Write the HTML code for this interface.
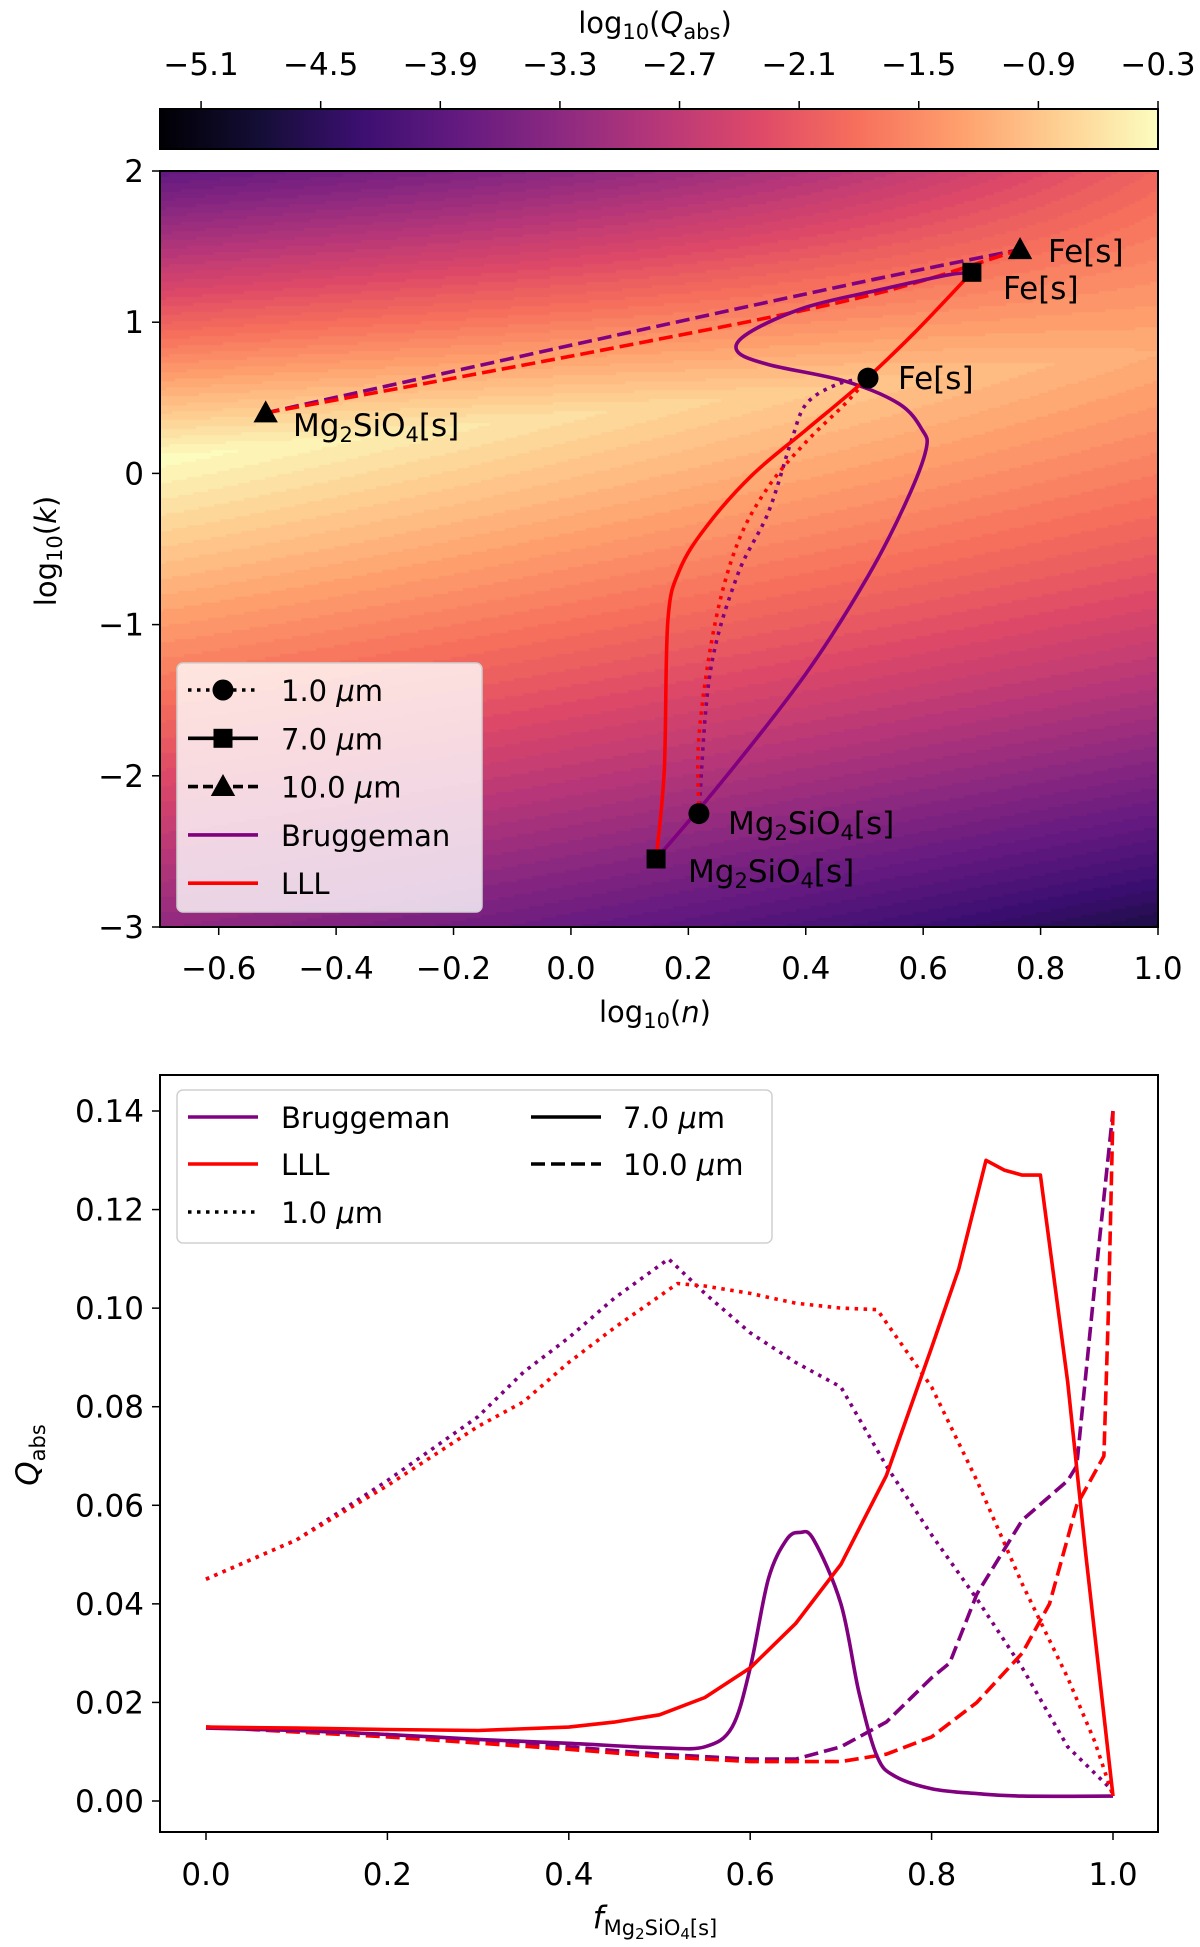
<!DOCTYPE html>
<html><head><meta charset="utf-8">
<style>
html,body{margin:0;padding:0;background:#fff;}
#wrap{position:relative;width:1200px;height:1947px;overflow:hidden;}
#heat{position:absolute;left:160px;top:171px;}
svg{position:absolute;left:0;top:0;}
text{font-family:"DejaVu Sans","Liberation Sans",sans-serif;fill:#000;}
</style></head>
<body>
<div id="wrap">
<canvas id="heat" width="998" height="756"></canvas>
<svg id="svg" width="1200" height="1947" xmlns="http://www.w3.org/2000/svg">
<defs>
<linearGradient id="magma" x1="0" x2="1" y1="0" y2="0">
<stop offset="0" stop-color="#000004"/><stop offset="0.1" stop-color="#140e36"/><stop offset="0.2" stop-color="#3b0f70"/><stop offset="0.3" stop-color="#641a80"/><stop offset="0.4" stop-color="#8c2981"/><stop offset="0.5" stop-color="#b73779"/><stop offset="0.6" stop-color="#de4968"/><stop offset="0.7" stop-color="#f7705c"/><stop offset="0.8" stop-color="#fe9f6d"/><stop offset="0.9" stop-color="#fecf92"/><stop offset="1" stop-color="#fcfdbf"/>
</linearGradient>
</defs>
</svg>
</div>
<script>
// ---------- data: colorbar ----------
const cbTicks = [-5.1,-4.5,-3.9,-3.3,-2.7,-2.1,-1.5,-0.9,-0.3];
// ---------- data: top panel ----------
const topXTicks = [-0.6,-0.4,-0.2,0.0,0.2,0.4,0.6,0.8,1.0];
const topYTicks = [2,1,0,-1,-2,-3];
const brug7n = [0.145,0.257,0.401,0.506,0.572,0.605,0.598,0.559,0.467,0.336,0.283,0.303,0.401,0.533,0.638,0.683];
const brug7k = [-2.55,-2.04,-1.32,-0.68,-0.18,0.16,0.29,0.46,0.61,0.72,0.81,0.93,1.10,1.22,1.31,1.33];
const lll7n = [0.145,0.159,0.165,0.185,0.231,0.309,0.401,0.493,0.585,0.683];
const lll7k = [-2.55,-1.96,-0.98,-0.64,-0.35,-0.01,0.29,0.59,0.93,1.33];
const brug1n = [0.218,0.237,0.283,0.336,0.375,0.401,0.454,0.506];
const brug1k = [-2.25,-1.32,-0.68,-0.26,0.21,0.46,0.59,0.63];
const lll1n = [0.218,0.218,0.244,0.283,0.336,0.401,0.467,0.506];
const lll1k = [-2.25,-1.74,-1.02,-0.47,-0.09,0.21,0.46,0.63];
const brug10n = [-0.52,0.073,0.5,0.765];
const brug10k = [0.40,0.91,1.27,1.48];
const lll10n = [-0.52,0.073,0.5,0.765];
const lll10k = [0.40,0.83,1.17,1.48];
// ---------- data: bottom panel ----------
const botXTicks = [0.0,0.2,0.4,0.6,0.8,1.0];
const botYTicks = [0.00,0.02,0.04,0.06,0.08,0.10,0.12,0.14];
const b1f = [0,0.1,0.2,0.3,0.35,0.4,0.45,0.51,0.55,0.6,0.65,0.7,0.75,0.8,0.85,0.9,0.95,1.0];
const b1q = [0.045,0.053,0.065,0.078,0.087,0.094,0.102,0.110,0.103,0.095,0.089,0.084,0.068,0.054,0.041,0.027,0.011,0.002];
const l1f = [0,0.1,0.2,0.3,0.35,0.4,0.45,0.52,0.55,0.6,0.65,0.7,0.74,0.8,0.85,0.9,0.95,0.98,1.0];
const l1q = [0.045,0.053,0.064,0.076,0.081,0.089,0.096,0.105,0.1045,0.103,0.101,0.100,0.0997,0.084,0.065,0.044,0.025,0.012,0.001];
const b7f = [0,0.1,0.2,0.3,0.4,0.5,0.55,0.58,0.6,0.62,0.64,0.655,0.67,0.7,0.72,0.74,0.76,0.8,0.85,0.9,1.0];
const b7q = [0.0148,0.0143,0.0135,0.0125,0.0117,0.0108,0.011,0.015,0.027,0.045,0.053,0.0545,0.053,0.040,0.022,0.009,0.005,0.0025,0.0015,0.001,0.001];
const l7f = [0,0.1,0.2,0.3,0.4,0.45,0.5,0.55,0.6,0.65,0.7,0.75,0.8,0.83,0.86,0.88,0.9,0.92,0.95,0.97,1.0];
const l7q = [0.015,0.0148,0.0145,0.0143,0.015,0.016,0.0175,0.021,0.027,0.036,0.048,0.066,0.092,0.108,0.130,0.128,0.127,0.127,0.085,0.050,0.001];
const b10f = [0,0.2,0.4,0.5,0.6,0.65,0.7,0.75,0.8,0.82,0.85,0.9,0.95,0.96,0.98,1.0];
const b10q = [0.015,0.0135,0.011,0.0095,0.0085,0.0085,0.011,0.016,0.025,0.028,0.042,0.057,0.065,0.068,0.105,0.140];
const l10f = [0,0.2,0.4,0.5,0.6,0.7,0.75,0.8,0.85,0.9,0.93,0.96,0.99,0.995,1.0];
const l10q = [0.015,0.013,0.0105,0.009,0.008,0.008,0.0095,0.013,0.020,0.030,0.040,0.060,0.070,0.100,0.140];

const NS="http://www.w3.org/2000/svg";
const svg=document.getElementById('svg');
function mk(tag,attrs,parent){const e=document.createElementNS(NS,tag);for(const k in attrs)e.setAttribute(k,attrs[k]);(parent||svg).appendChild(e);return e;}
function txt(s,attrs,parent){const e=mk('text',attrs,parent);e.innerHTML=s;return e;}

const VMIN=-5.306,VMAX=-0.3;
const tX=n=>160+(n+0.7)/1.7*998, tY=k=>171+(2-k)/5*756;
const bX=f=>206+f*907, bY=q=>1801-q/0.14*690;
const cbX=v=>160+(v-VMIN)/(VMAX-VMIN)*998;

const mstops=[[0,0,4],[20,14,54],[59,15,112],[100,26,128],[140,41,129],[183,55,121],[222,73,104],[247,112,92],[254,159,109],[254,207,146],[252,253,191]];
function magma(t){t=Math.max(0,Math.min(1,t));const p=t*10,i=Math.min(9,Math.floor(p)),f=p-i;const a=mstops[i],b=mstops[i+1];return [a[0]+(b[0]-a[0])*f,a[1]+(b[1]-a[1])*f,a[2]+(b[2]-a[2])*f];}
function field(n,k){const t=(n+0.7)/1.7;const peak=-0.3-0.85*Math.pow(t,1.1);const kc=0.1+0.7*t;const d=k-kc;
 if(d>=0){return peak-(1.85-0.3*t-0.9*t*t*t)*d;} const a=0.95-0.4*t,b=0.1*t;return peak-(a*(-d)+b*d*d);}
(function(){const c=document.getElementById('heat').getContext('2d');const st=3;
 for(let px=0;px<998;px+=st)for(let py=0;py<756;py+=st){const n=-0.7+(px+1)/998*1.7,k=2-(py+1)/756*5;
  let v=field(n,k);v=Math.round((v-VMIN)/0.1)*0.1+VMIN;const col=magma((v-VMIN)/(VMAX-VMIN));
  c.fillStyle=`rgb(${col[0]|0},${col[1]|0},${col[2]|0})`;c.fillRect(px,py,st,st);}})();

mk('rect',{x:160,y:109,width:998,height:40,fill:'url(#magma)',stroke:'#000','stroke-width':2,});
cbTicks.forEach(v=>{const x=cbX(v);mk('line',{x1:x,x2:x,y1:109,y2:101,stroke:'#000','stroke-width':1.5});
 const t=txt(String(v.toFixed(1)).replace('-','\u2212'),{x:x,y:75,'text-anchor':'middle','font-size':31});
 });
txt('log<tspan font-size="21" dy="6">10</tspan><tspan dy="-6">(</tspan><tspan font-style="italic">Q</tspan><tspan font-size="21" dy="6">abs</tspan><tspan dy="-6">)</tspan>',{x:655,y:33,'text-anchor':'middle','font-size':29,});

mk('rect',{x:160,y:171,width:998,height:756,fill:'none',stroke:'#000','stroke-width':2,});
topXTicks.forEach(v=>{const x=tX(v);mk('line',{x1:x,x2:x,y1:927,y2:935,stroke:'#000','stroke-width':1.5});
 const t=txt(v.toFixed(1).replace('-','\u2212'),{x:x,y:979,'text-anchor':'middle','font-size':31});});
topYTicks.forEach(v=>{const y=tY(v);mk('line',{x1:160,x2:152,y1:y,y2:y,stroke:'#000','stroke-width':1.5});
 const t=txt(String(v).replace('-','\u2212'),{x:144,y:y+11,'text-anchor':'end','font-size':31});});
txt('log<tspan font-size="21" dy="6">10</tspan><tspan dy="-6">(</tspan><tspan font-style="italic">n</tspan>)',{x:655,y:1022,'text-anchor':'middle','font-size':29,});
txt('log<tspan font-size="21" dy="6">10</tspan><tspan dy="-6">(</tspan><tspan font-style="italic">k</tspan>)',{x:0,y:0,'text-anchor':'middle','font-size':29,transform:'translate(56,551) rotate(-90)',});

function path(xs,ys,fx,fy,color,dash,name,smooth){const P=xs.map((v,i)=>[fx(v),fy(ys[i])]);let d='M'+P[0][0].toFixed(1)+','+P[0][1].toFixed(1);
 for(let i=1;i<P.length;i++){if(smooth){const p0=P[Math.max(0,i-2)],p1=P[i-1],p2=P[i],p3=P[Math.min(P.length-1,i+1)];
  const c1=[p1[0]+(p2[0]-p0[0])/6,p1[1]+(p2[1]-p0[1])/6],c2=[p2[0]-(p3[0]-p1[0])/6,p2[1]-(p3[1]-p1[1])/6];
  d+=` C${c1[0].toFixed(1)},${c1[1].toFixed(1)} ${c2[0].toFixed(1)},${c2[1].toFixed(1)} ${p2[0].toFixed(1)},${p2[1].toFixed(1)}`;}
  else d+=' L'+P[i][0].toFixed(1)+','+P[i][1].toFixed(1);}
 const p=mk('path',{d:d,fill:'none',stroke:color,'stroke-width':3.6,'stroke-linejoin':'round'});if(dash)p.setAttribute('stroke-dasharray',dash);
 return p;}
const PUR='#800080',RED='#ff0000',DOT='3.5 5.5',DASH='14 6';
path(brug10n,brug10k,tX,tY,PUR,DASH,'bruggeman-10um-path',true);
path(lll10n,lll10k,tX,tY,RED,DASH,'lll-10um-path',true);
path(brug1n,brug1k,tX,tY,PUR,DOT,'bruggeman-1um-path',true);
path(lll1n,lll1k,tX,tY,RED,DOT,'lll-1um-path',true);
path(brug7n,brug7k,tX,tY,PUR,null,'bruggeman-7um-path',true);
path(lll7n,lll7k,tX,tY,RED,null,'lll-7um-path',true);
function marker(type,x,y,s,name){let e;
 if(type==='o')e=mk('circle',{cx:x,cy:y,r:s*0.5,fill:'#000'});
 else if(type==='s')e=mk('rect',{x:x-s/2,y:y-s/2,width:s,height:s,fill:'#000'});
 else e=mk('polygon',{points:`${x},${y-s*0.6} ${x-s*0.58},${y+s*0.45} ${x+s*0.58},${y+s*0.45}`,fill:'#000'});
 }
marker('o',tX(brug1n[0]),tY(brug1k[0]),21,'marker-1um-mg2sio4');
marker('o',tX(brug1n[brug1n.length-1]),tY(brug1k[brug1k.length-1]),21,'marker-1um-fe');
marker('s',tX(brug7n[0]),tY(brug7k[0]),19,'marker-7um-mg2sio4');
marker('s',tX(brug7n[brug7n.length-1]),tY(brug7k[brug7k.length-1]),19,'marker-7um-fe');
marker('^',tX(brug10n[0]),tY(brug10k[0]),21,'marker-10um-mg2sio4');
marker('^',tX(brug10n[brug10n.length-1]),tY(brug10k[brug10k.length-1]),21,'marker-10um-fe');
const MG='Mg<tspan font-size="21" dy="6">2</tspan><tspan dy="-6">SiO</tspan><tspan font-size="21" dy="6">4</tspan><tspan dy="-6">[s]</tspan>';
function lab(s,x,y,name){const t=txt(s,{x:x,y:y,'font-size':31});}
lab('Fe[s]',1048,262,'label-fe-10um');
lab('Fe[s]',1003,299,'label-fe-7um');
lab('Fe[s]',898,389,'label-fe-1um');
lab(MG,293,436,'label-mg2sio4-10um');
lab(MG,728,834,'label-mg2sio4-1um');
lab(MG,688,882,'label-mg2sio4-7um');

const lg=mk('g',{});
mk('rect',{x:177,y:663,width:305,height:249,rx:6,fill:'#ffffff','fill-opacity':0.8,stroke:'#d0d0d0','stroke-width':1.5},lg);
const tl=[['1.0 <tspan font-style="italic">μ</tspan>m','#000',DOT,'o'],['7.0 <tspan font-style="italic">μ</tspan>m','#000',null,'s'],['10.0 <tspan font-style="italic">μ</tspan>m','#000','10 5','^'],['Bruggeman',PUR,null,null],['LLL',RED,null,null]];
tl.forEach((e,i)=>{const y=690+i*48.3;const l=mk('line',{x1:188,x2:258,y1:y,y2:y,stroke:e[1],'stroke-width':3.6},lg);if(e[2])l.setAttribute('stroke-dasharray',e[2]);
 if(e[3])marker(e[3],223,y,e[3]==='s'?19:21,'legend-marker');
 const t=txt(e[0],{x:281,y:y+11,'font-size':29},lg);});

mk('rect',{x:160,y:1075,width:998,height:757,fill:'none',stroke:'#000','stroke-width':2,});
botXTicks.forEach(v=>{const x=bX(v);mk('line',{x1:x,x2:x,y1:1832,y2:1840,stroke:'#000','stroke-width':1.5});
 const t=txt(v.toFixed(1),{x:x,y:1885,'text-anchor':'middle','font-size':31});});
botYTicks.forEach(v=>{const y=bY(v);mk('line',{x1:160,x2:152,y1:y,y2:y,stroke:'#000','stroke-width':1.5});
 const t=txt(v.toFixed(2),{x:144,y:y+11,'text-anchor':'end','font-size':31});});
txt('<tspan font-style="italic">f</tspan><tspan font-size="21" dy="7">Mg</tspan><tspan font-size="15" dy="4">2</tspan><tspan font-size="21" dy="-4">SiO</tspan><tspan font-size="15" dy="4">4</tspan><tspan font-size="21" dy="-4">[s]</tspan>',{x:655,y:1928,'text-anchor':'middle','font-size':31,});
txt('<tspan font-style="italic">Q</tspan><tspan font-size="21" dy="7">abs</tspan>',{x:0,y:0,'text-anchor':'middle','font-size':31,transform:'translate(38,1455) rotate(-90)',});
path(b1f,b1q,bX,bY,PUR,DOT,'bruggeman-1um-line',false);
path(l1f,l1q,bX,bY,RED,DOT,'lll-1um-line',false);
path(b10f,b10q,bX,bY,PUR,DASH,'bruggeman-10um-line',false);
path(l10f,l10q,bX,bY,RED,DASH,'lll-10um-line',false);
path(b7f,b7q,bX,bY,PUR,null,'bruggeman-7um-line',true);
path(l7f,l7q,bX,bY,RED,null,'lll-7um-line',false);

const lg2=mk('g',{});
mk('rect',{x:177,y:1090,width:595,height:153,rx:6,fill:'#ffffff','fill-opacity':0.8,stroke:'#d0d0d0','stroke-width':1.5},lg2);
const bl=[['Bruggeman',PUR,null,188,281,1117],['LLL',RED,null,188,281,1164],['1.0 <tspan font-style="italic">μ</tspan>m','#000',DOT,188,281,1212],['7.0 <tspan font-style="italic">μ</tspan>m','#000',null,531,623,1117],['10.0 <tspan font-style="italic">μ</tspan>m','#000','14 6',531,623,1164]];
bl.forEach(e=>{const l=mk('line',{x1:e[3],x2:e[3]+70,y1:e[5],y2:e[5],stroke:e[1],'stroke-width':3.6},lg2);if(e[2])l.setAttribute('stroke-dasharray',e[2]);
 const t=txt(e[0],{x:e[4],y:e[5]+11,'font-size':29},lg2);});
</script>
</body></html>
